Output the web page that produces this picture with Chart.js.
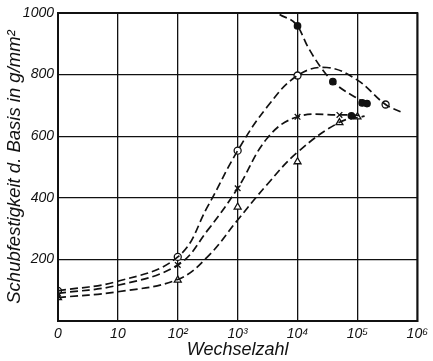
<!DOCTYPE html>
<html>
<head>
<meta charset="utf-8">
<script src="https://cdn.jsdelivr.net/npm/chart.js@4"></script>
<style>
  html, body { margin: 0; padding: 0; background: #fff; }
  #wrap { width: 433px; height: 361px; }
</style>
</head>
<body>
<div id="wrap"><canvas id="chart" width="433" height="361"></canvas></div>
<script>
// x positions: 0 = 0, 1 = 10, 2 = 10^2 ... 6 = 10^6 (one grid step per decade)
const xTickLabels = ["0", "10", "10²", "10³", "10⁴", "10⁵", "10⁶"];
const yTicks = [0, 200, 400, 600, 800, 1000];

// fitted curves (dashed)
const curveCircle = [[0, 98], [1, 129], [2, 208], [2.5, 372], [3, 553], [3.5, 697], [4, 797], [4.49, 823], [5, 782], [5.47, 703], [5.76, 676]];
const curveCross = [[0, 90], [1, 116], [2, 182], [2.5, 295], [3, 431], [3.5, 595], [4, 663], [4.7, 669], [5.1, 667]];
const curveTriangle = [[0, 76], [1, 95], [2, 135], [2.5, 209], [3, 328], [3.5, 445], [4, 548], [4.7, 645], [5.12, 665]];
const curveDot = [[3.7, 995], [4, 958], [4.17, 891], [4.38, 826], [4.59, 777], [5.14, 706]];

// measured points
const pointsCircle = [[0, 98], [2, 208], [3, 553], [4, 797], [5.47, 703]];
const pointsCross = [[0, 90], [2, 182], [3, 431], [4, 663], [4.7, 669]];
const pointsTriangle = [[0, 76], [2, 133], [3, 370], [4, 517], [4.7, 644], [5, 663]];
const pointsDot = [[4, 958], [4.59, 777], [4.9, 666], [5.08, 708], [5.16, 706]];

const toXY = arr => arr.map(p => ({ x: p[0], y: p[1] }));

function curve(pts, monotone) {
    return {
        type: "line",
        data: toXY(pts),
        borderColor: "#111",
        borderWidth: 1.7,
        borderDash: [8, 4],
        pointRadius: 0,
        tension: 0.4,
        cubicInterpolationMode: monotone ? "monotone" : "default",
        fill: false,
    };
}

function marks(pts, style, radius, bg) {
    return {
        type: "scatter",
        data: toXY(pts),
        pointStyle: style,
        pointRadius: radius,
        pointBorderWidth: 1.3,
        pointBorderColor: "#111",
        pointBackgroundColor: bg,
        showLine: false,
    };
}

const tickFont = { family: "Liberation Sans", style: "italic", size: 14 };

new Chart(document.getElementById("chart"), {
    data: {
        datasets: [
            curve(curveCircle),
            curve(curveCross),
            curve(curveTriangle),
            curve(curveDot, true),
            marks(pointsCircle, "circle", 3.5, "#fff"),
            marks(pointsCross, "crossRot", 4, "#111"),
            marks(pointsTriangle, "triangle", 4, "#fff"),
            marks(pointsDot, "circle", 3.2, "#111"),
        ],
    },
    options: {
        responsive: false,
        animation: false,
        layout: { padding: { top: 13, right: 11, left: 0, bottom: 0 } },
        plugins: { legend: { display: false }, tooltip: { enabled: false } },
        scales: {
            x: {
                type: "linear",
                min: 0,
                max: 6,
                afterFit: s => { s.height = 40; },
                afterBuildTicks: s => { s.ticks = xTickLabels.map((_, i) => ({ value: i })); },
                grid: { color: "#111", lineWidth: 1.3, drawTicks: false },
                border: { color: "#111", width: 2 },
                ticks: {
                    color: "#111",
                    font: tickFont,
                    padding: 5,
                    maxRotation: 0,
                    autoSkip: false,
                    callback: v => xTickLabels[v],
                },
                title: {
                    display: true,
                    text: "Wechselzahl",
                    color: "#111",
                    font: { family: "Liberation Sans", style: "italic", size: 18 },
                    padding: { top: 0, bottom: 0 },
                },
            },
            y: {
                type: "linear",
                min: 0,
                max: 1000,
                afterFit: s => { s.width = 58; },
                afterBuildTicks: s => { s.ticks = yTicks.map(v => ({ value: v })); },
                grid: { color: "#111", lineWidth: 1.3, drawTicks: false },
                border: { color: "#111", width: 2 },
                ticks: {
                    color: "#111",
                    font: tickFont,
                    padding: 4,
                    callback: v => (v === 0 ? "" : String(v)),
                },
                title: {
                    display: true,
                    text: "Schubfestigkeit d. Basis in g/mm²",
                    color: "#111",
                    font: { family: "Liberation Sans", style: "italic", size: 18.5 },
                    padding: { top: 4, bottom: 0 },
                },
            },
        },
    },
    plugins: [{
        // frame around the plot area (top and right edges)
        id: "frame",
        afterDraw(chart) {
            const { ctx, chartArea: a } = chart;
            ctx.save();
            ctx.strokeStyle = "#111";
            ctx.lineWidth = 2;
            ctx.strokeRect(a.left, a.top, a.right - a.left, a.bottom - a.top);
            ctx.restore();
        },
    }],
});
</script>
</body>
</html>
